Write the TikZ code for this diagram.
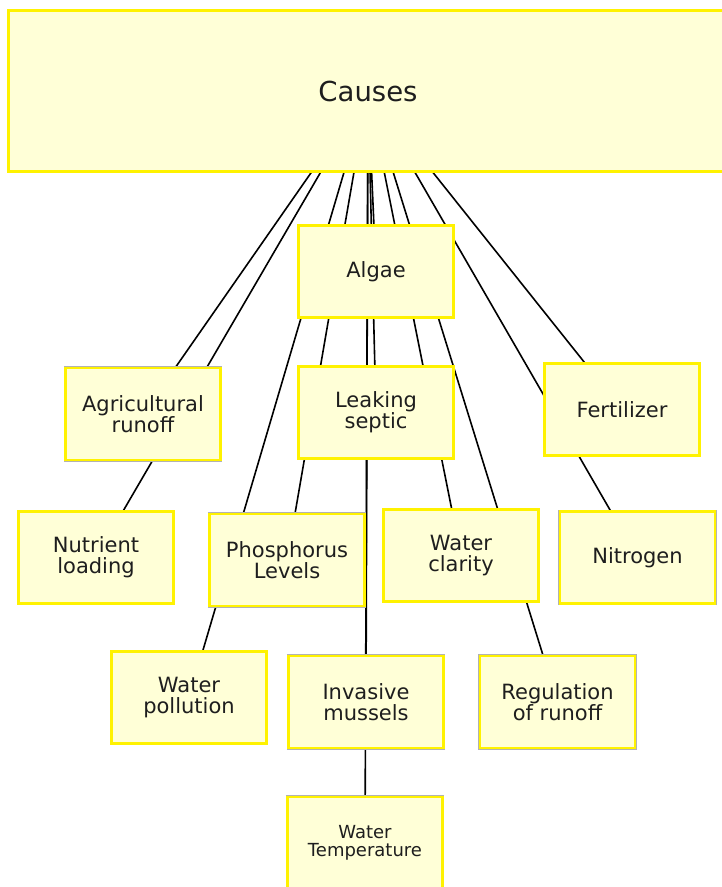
\documentclass[tikz,border=0pt]{standalone}
\usepackage{fontspec}
\setmainfont{DejaVu Sans}
\usetikzlibrary{backgrounds}
\definecolor{notefill}{RGB}{255,255,215}
\definecolor{noteink}{RGB}{30,30,30}
\tikzset{
  note/.style={rectangle,fill=notefill,draw=yellow,line width=2.6pt,
    preaction={draw=black!30,line width=3.4pt},
    minimum width=155pt,minimum height=92pt,inner sep=0pt,align=center,
    text=noteink,font=\fontsize{21}{21}\selectfont},
  link/.style={line width=1.6pt,black}
}
\begin{document}
\begin{tikzpicture}[x=1pt,y=-1pt]
  \useasboundingbox (0,0) rectangle (722,887);
  \node[note,minimum width=719pt,minimum height=161pt,font=\fontsize{27.5}{30}\selectfont] (causes) at (368,91) {Causes};
  \node[note] (algae) at (376,271.5) {Algae};
  \node[note] (agri) at (143,414) {Agricultural\\runoff};
  \node[note] (septic) at (376,412.5) {Leaking\\septic};
  \node[note] (fert) at (622,409.5) {Fertilizer};
  \node[note] (nutrient) at (96,557.5) {Nutrient\\loading};
  \node[note] (phos) at (287,560) {Phosphorus\\Levels};
  \node[note] (clarity) at (461,555.5) {Water\\clarity};
  \node[note] (nitrogen) at (637.5,557.5) {Nitrogen};
  \node[note] (pollution) at (189,697.5) {Water\\pollution};
  \node[note] (mussels) at (366,702) {Invasive\\mussels};
  \node[note] (regulation) at (557.5,702) {Regulation\\of runoff};
  \node[note,font=\fontsize{18}{18.5}\selectfont] (watertemp) at (365,843) {Water\\Temperature};
  \begin{scope}[on background layer]
    \foreach \n in {algae,agri,septic,fert,nutrient,phos,clarity,nitrogen,pollution,mussels,regulation,watertemp}
      \draw[link] (causes.center) -- (\n.center);
  \end{scope}
\end{tikzpicture}
\end{document}
